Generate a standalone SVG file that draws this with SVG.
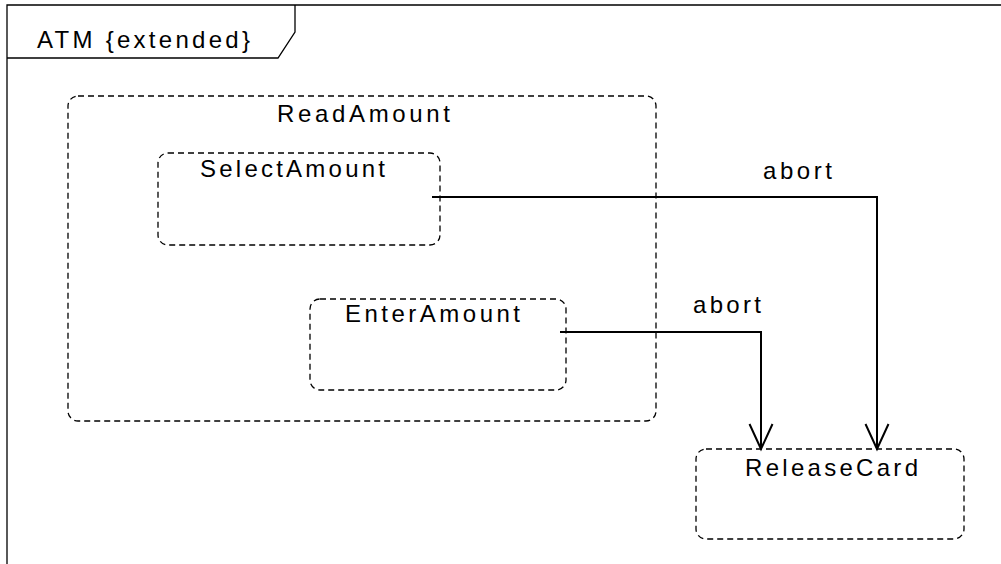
<svg xmlns="http://www.w3.org/2000/svg" width="1001" height="564" viewBox="0 0 1001 564">
<style>
.st{fill:none;stroke:#000;stroke-width:1.3;stroke-dasharray:6,4}
.fr{fill:none;stroke:#000;stroke-width:1.3}
.cn{fill:none;stroke:#000;stroke-width:2}
text{font-family:"Liberation Sans",Arial,sans-serif;font-size:24px;fill:#000}
</style>
<defs>
<marker id="open" markerWidth="30" markerHeight="30" refX="13" refY="26" orient="0" markerUnits="userSpaceOnUse">
<path d="M1.5,1 L13,26 L24.5,1" fill="none" stroke="#000" stroke-width="2"/>
</marker>
</defs>
<rect width="1001" height="564" fill="#fff"/>
<g id="frame">
<path class="fr" d="M7,564 V5 H1001"/>
<path class="fr" d="M7,58 H278 L295,32 V5"/>
<text x="37" y="48" textLength="213" lengthAdjust="spacing">ATM {extended}</text>
</g>
<g id="ReadAmount">
<rect class="st" x="68" y="96" width="588" height="325" rx="10"/>
<text x="277" y="122" textLength="173" lengthAdjust="spacing">ReadAmount</text>
</g>
<g id="SelectAmount">
<rect class="st" x="158" y="153" width="282" height="92" rx="10"/>
<text x="200" y="177" textLength="185" lengthAdjust="spacing">SelectAmount</text>
</g>
<g id="EnterAmount">
<rect class="st" x="310" y="299" width="256" height="91" rx="10"/>
<text x="345" y="322" textLength="175" lengthAdjust="spacing">EnterAmount</text>
</g>
<g id="ReleaseCard">
<rect class="st" x="696" y="449" width="268" height="90" rx="10"/>
<text x="745" y="476" textLength="173" lengthAdjust="spacing">ReleaseCard</text>
</g>
<g id="connectors">
<path class="cn" d="M432,197 H877 V449" marker-end="url(#open)"/>
<text x="763" y="179" textLength="69" lengthAdjust="spacing">abort</text>
<path class="cn" d="M560,332 H761 V449" marker-end="url(#open)"/>
<text x="693" y="313" textLength="68" lengthAdjust="spacing">abort</text>
</g>
</svg>
